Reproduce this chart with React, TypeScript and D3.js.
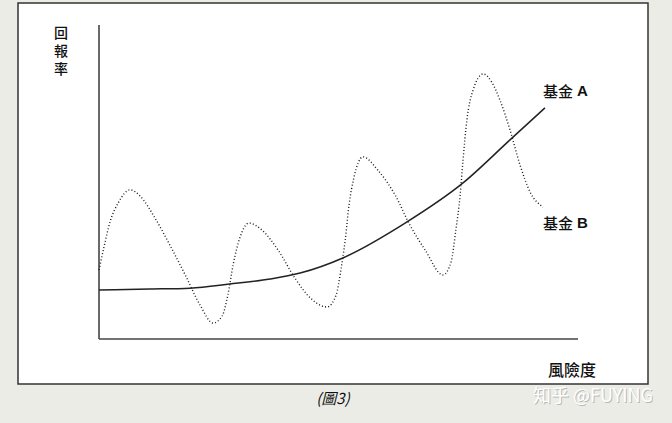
import React from "react";
import * as d3 from "d3";

const WIDTH = 672;
const HEIGHT = 423;

// risk (x) and return (y), in arbitrary units 0..10
const FUND_A_RISK = [0, 1.06, 1.9, 2.73, 3.57, 4.2, 5.09, 6.39, 7.6, 8.58, 9.31];
const FUND_A_RETURN = [1.56, 1.59, 1.62, 1.75, 1.91, 2.1, 2.58, 3.69, 4.97, 6.34, 7.36];

const FUND_B_RISK = [
  0, 0.1, 0.23, 0.4, 0.65, 0.86, 1.17, 1.48, 1.8, 2.11, 2.38, 2.57, 2.69, 2.8,
  2.94, 3.13, 3.4, 3.74, 4.09, 4.41, 4.76, 4.95, 5.05, 5.14, 5.22, 5.32, 5.51,
  5.82, 6.18, 6.49, 6.81, 7.18, 7.35, 7.45, 7.54, 7.6, 7.68, 7.81, 8.02, 8.2,
  8.37, 8.58, 8.79, 9.0, 9.27,
];
const FUND_B_RETURN = [
  2.2, 2.9, 3.73, 4.33, 4.75, 4.55, 3.85, 2.99, 2.04, 1.08, 0.51, 0.73, 1.4, 2.36,
  3.22, 3.69, 3.47, 2.83, 1.94, 1.31, 1.02, 1.4, 2.2, 3.15, 4.27, 5.13, 5.8,
  5.38, 4.59, 3.63, 2.83, 2.04, 2.45, 3.47, 4.59, 5.7, 6.97, 7.93, 8.44, 8.18,
  7.61, 6.66, 5.54, 4.68, 4.2,
];

const Y_LABEL = "回報率";
const X_LABEL = "風險度";
const SERIES_NAME = "基金";
const SERIES_KEYS = ["A", "B"];
const CAPTION = "(圖3)";
const WATERMARK = "知乎 @FUYING";

const CJK = "'Noto Sans CJK TC', 'Noto Sans CJK SC', sans-serif";
const LATIN = "'Liberation Sans', Arial, sans-serif";
const INK = "#111";

export default function App() {
  const x = d3.scaleLinear().domain([0, 10]).range([99, 578]);
  const y = d3.scaleLinear().domain([0, 10]).range([339, 25]);

  const line = d3
    .line<[number, number]>()
    .x((d) => x(d[0]))
    .y((d) => y(d[1]))
    .curve(d3.curveMonotoneX);

  const fundA = FUND_A_RISK.map((r, i) => [r, FUND_A_RETURN[i]] as [number, number]);
  const fundB = FUND_B_RISK.map((r, i) => [r, FUND_B_RETURN[i]] as [number, number]);

  const endA = fundA[fundA.length - 1];
  const endB = fundB[fundB.length - 1];
  const labelPos = [
    [x(endA[0]) - 2, 90],
    [x(endB[0]), 222],
  ];

  return (
    <div style={{ position: "fixed", left: 0, top: 0 }}>
      <svg width={WIDTH} height={HEIGHT} style={{ display: "block" }}>
        <rect width={WIDTH} height={HEIGHT} fill="#ecece6" />
        <rect x={18} y={3} width={630} height={381} fill="#fff" stroke="#333" strokeWidth={1.5} />

        {/* axes */}
        <line x1={x(0)} x2={x(0)} y1={y(10)} y2={y(0)} stroke="#444" strokeWidth={1.6} />
        <line x1={x(0)} x2={x(10)} y1={y(0)} y2={y(0)} stroke="#444" strokeWidth={1.6} />

        {/* fund B dotted */}
        <path
          d={line(fundB) || ""}
          fill="none"
          stroke="#1a1a1a"
          strokeWidth={1.4}
          strokeDasharray="1 2.2"
        />
        {/* fund A solid */}
        <path d={line(fundA) || ""} fill="none" stroke="#222" strokeWidth={1.5} />

        {/* labels */}
        <g fontFamily={CJK} fontSize={14} fill={INK} fontWeight={500}>
          <text
            x={61}
            y={26}
            style={{ writingMode: "vertical-rl", textOrientation: "upright", letterSpacing: "4px" }}
          >
            {Y_LABEL}
          </text>
          <text x={572} y={369} textAnchor="middle" dominantBaseline="central" fontSize={16}>
            {X_LABEL}
          </text>
          {SERIES_KEYS.map((k, i) => (
            <text key={k} x={labelPos[i][0]} y={labelPos[i][1]} dominantBaseline="central" fontSize={15}>
              {SERIES_NAME}
              <tspan dx={4} fontFamily={LATIN} fontWeight="bold" fontSize={15}>
                {k}
              </tspan>
            </text>
          ))}
        </g>

        <text
          x={333}
          y={397}
          textAnchor="middle"
          dominantBaseline="central"
          fontFamily={CJK}
          fontSize={15}
          fontStyle="italic"
          fill={INK}
        >
          {CAPTION}
        </text>

        {/* watermark: grey shadow under white text */}
        <text
          x={654}
          y={395}
          textAnchor="end"
          dominantBaseline="central"
          fontFamily={CJK}
          fontSize={18}
          fill="#b9b9b3"
        >
          {WATERMARK}
        </text>
        <text
          x={653}
          y={394}
          textAnchor="end"
          dominantBaseline="central"
          fontFamily={CJK}
          fontSize={18}
          fill="#fff"
        >
          {WATERMARK}
        </text>
      </svg>
    </div>
  );
}
